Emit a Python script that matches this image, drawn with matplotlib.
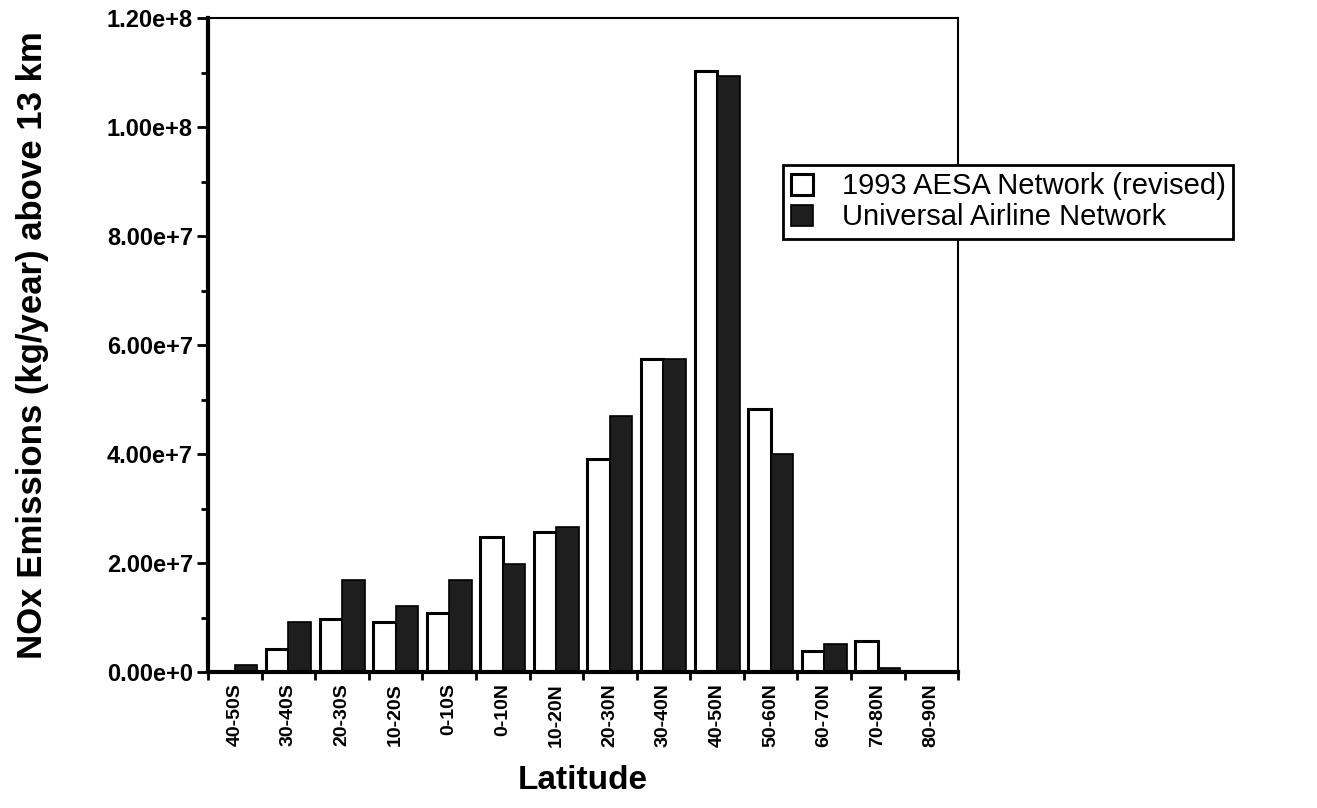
import numpy as np
import matplotlib.pyplot as plt
from matplotlib.ticker import MultipleLocator, FixedLocator, NullFormatter

latitudes = ['40-50S', '30-40S', '20-30S', '10-20S', '0-10S', '0-10N', '10-20N',
             '20-30N', '30-40N', '40-50N', '50-60N', '60-70N', '70-80N', '80-90N']

aesa_1993 = [0.0, 4.2e6, 9.7e6, 9.1e6, 1.09e7, 2.47e7, 2.56e7,
             3.91e7, 5.74e7, 1.103e8, 4.83e7, 3.8e6, 5.7e6, 0.0]
universal = [1.3e6, 9.2e6, 1.69e7, 1.21e7, 1.69e7, 1.98e7, 2.66e7,
             4.69e7, 5.74e7, 1.093e8, 4.0e7, 5.1e6, 0.8e6, 0.0]

ytick_labels = ['0.00e+0', '2.00e+7', '4.00e+7', '6.00e+7', '8.00e+7',
                '1.00e+8', '1.20e+8']

plt.rcParams['font.family'] = ['Liberation Sans', 'DejaVu Sans']

fig = plt.figure(figsize=(13.17, 8.08), dpi=100)
ax = fig.add_axes([0.158, 0.1683, 0.5695, 0.8094])

x = np.arange(len(latitudes))
w = 0.42
ax.bar(x - 0.21, aesa_1993, w, facecolor='white', edgecolor='black',
       linewidth=2.2, label='1993 AESA Network (revised)')
ax.bar(x + 0.21, universal, w, facecolor='#1e1e1e', edgecolor='black',
       linewidth=1.2, label='Universal Airline Network')

ax.set_xlim(-0.5, len(latitudes) - 0.5)
ax.set_ylim(0, 1.2e8)

# tick marks between groups, labels at group centres
ax.xaxis.set_major_locator(FixedLocator(np.arange(-0.5, len(latitudes) + 0.5, 1)))
ax.xaxis.set_major_formatter(NullFormatter())
ax.xaxis.set_minor_locator(FixedLocator(x))
ax.set_xticklabels(latitudes, minor=True, rotation=90, fontsize=14,
                   fontweight='bold')
ax.tick_params(axis='x', which='major', direction='out', length=6, width=2)
ax.tick_params(axis='x', which='minor', length=0, pad=8)

ax.set_yticks(np.arange(0, 1.21e8, 2e7))
ax.yaxis.set_minor_locator(MultipleLocator(1e7))
ax.set_yticklabels(ytick_labels, fontsize=17, fontweight='bold')
ax.tick_params(axis='y', which='major', direction='out', length=8, width=2, pad=3)
ax.tick_params(axis='y', which='minor', direction='out', length=5, width=2)

for side in ['left', 'bottom']:
    ax.spines[side].set_linewidth(3)
for side in ['right', 'top']:
    ax.spines[side].set_linewidth(1.5)

ax.set_xlabel('Latitude', fontsize=24, fontweight='bold')
ax.xaxis.set_label_coords(0.5, -0.142)
ax.set_ylabel('NOx Emissions (kg/year) above 13 km', fontsize=25,
              fontweight='bold')
ax.yaxis.set_label_coords(-0.212, 0.5)

leg = ax.legend(loc='upper left', bbox_to_anchor=(0.767, 0.775), fontsize=21,
                frameon=True, fancybox=False, edgecolor='black',
                handlelength=0.75, handleheight=0.75, handletextpad=1.0,
                borderpad=0.25, labelspacing=0.1, borderaxespad=0)
leg.get_frame().set_linewidth(2)
leg.get_frame().set_alpha(1)

fig.savefig('out.png', dpi=100)
